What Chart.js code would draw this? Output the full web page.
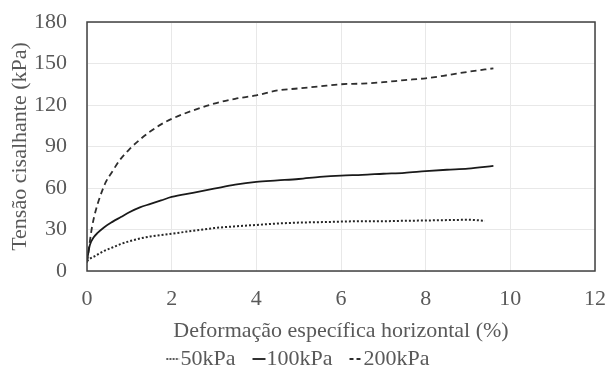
<!DOCTYPE html>
<html>
<head>
<meta charset="utf-8">
<script src="https://cdn.jsdelivr.net/npm/chart.js@4/dist/chart.umd.min.js"></script>
<style>
html,body{margin:0;padding:0;background:#fff;}
#wrap{width:608px;height:369px;position:relative;}
</style>
</head>
<body>
<div id="wrap"><canvas id="c"></canvas></div>
<script>
// ---- data ----
const seriesNames = ['50kPa', '100kPa', '200kPa'];

const strain50 = [0, 0.05, 0.2, 0.4, 0.6, 0.8, 1.0, 1.25, 1.5, 2.0, 2.5, 3.0, 3.5, 4.0, 4.5, 5.0, 5.5, 6.0, 6.5, 7.0, 7.5, 8.0, 8.5, 9.0, 9.4];
const stress50 = [7, 8.5, 11, 14.5, 17, 19.5, 21.5, 23.5, 25, 27, 29, 31, 32.3, 33.3, 34.3, 35, 35.3, 35.7, 36, 36, 36.3, 36.5, 36.8, 37, 36.3];

const strain100 = [0, 0.03, 0.07, 0.15, 0.25, 0.4, 0.6, 0.8, 1.0, 1.25, 1.5, 1.75, 2.0, 2.5, 3.0, 3.5, 4.0, 4.5, 5.0, 5.5, 6.0, 6.5, 7.0, 7.5, 8.0, 8.5, 9.0, 9.6];
const stress100 = [7, 13, 19, 24, 27.5, 31.5, 35.5, 39, 42.5, 46, 48.5, 51, 53.5, 56.5, 59.5, 62.5, 64.5, 65.5, 66.5, 68, 69, 69.5, 70.3, 71, 72.2, 73.2, 74, 76];

const strain200 = [0, 0.03, 0.07, 0.12, 0.2, 0.3, 0.44, 0.6, 0.77, 1.0, 1.25, 1.5, 1.75, 2.0, 2.5, 3.0, 3.5, 4.0, 4.5, 5.0, 5.5, 6.0, 6.5, 7.0, 7.5, 8.0, 8.5, 9.0, 9.6];
const stress200 = [6, 13, 22, 32, 43, 53, 64, 72, 80, 88, 95, 101, 106, 110, 116, 121, 124.5, 127, 130.5, 132, 133.5, 135, 135.5, 136.5, 138, 139.3, 141.5, 144, 146.5];

const xTicks = [0, 2, 4, 6, 8, 10, 12];
const yTicks = [0, 30, 60, 90, 120, 150, 180];
const xTitle = 'Deformação específica horizontal (%)';
const yTitle = 'Tensão cisalhante (kPa)';

function pts(xs, ys) { return xs.map((x, i) => ({x: x, y: ys[i]})); }

const FONT = "'Liberation Serif', 'Times New Roman', serif";
const TXT = '#595959';
const FS = 22;

// small legend sample drawn to the right of the item's origin
function sample(dash, width, color) {
  const c = document.createElement('canvas');
  c.width = 30; c.height = 6;
  const g = c.getContext('2d');
  g.strokeStyle = color; g.lineWidth = width; g.setLineDash(dash);
  g.beginPath(); g.moveTo(14, 3); g.lineTo(27, 3); g.stroke();
  return c;
}

const styles = [
  {color: '#262626', width: 2, dash: [2, 2]},
  {color: '#1a1a1a', width: 1.8, dash: []},
  {color: '#2e2e2e', width: 1.8, dash: [6, 4]}
];
const legendDash = [[1.5, 1.7], [], [4, 3]];

const frame = {
  id: 'frame',
  afterDatasetsDraw(chart) {
    const a = chart.chartArea, ctx = chart.ctx;
    ctx.save();
    ctx.strokeStyle = '#404040';
    ctx.lineWidth = 1.5;
    ctx.strokeRect(a.left, a.top, a.right - a.left, a.bottom - a.top);
    ctx.restore();
  }
};

const xs = [strain50, strain100, strain200];
const ys = [stress50, stress100, stress200];

new Chart(document.getElementById('c'), {
  type: 'line',
  data: {
    datasets: seriesNames.map((n, i) => ({
      label: n,
      data: pts(xs[i], ys[i]),
      borderColor: styles[i].color,
      borderWidth: styles[i].width,
      borderDash: styles[i].dash,
      pointStyle: sample(legendDash[i], styles[i].width, styles[i].color)
    }))
  },
  options: {
    responsive: true,
    maintainAspectRatio: false,
    animation: false,
    cubicInterpolationMode: 'monotone',
    elements: {point: {radius: 0, hoverRadius: 0}, line: {fill: false}},
    layout: {padding: {left: 0, right: 13, top: 22, bottom: 0}},
    plugins: {
      tooltip: {enabled: false},
      legend: {
        position: 'bottom',
        maxHeight: 37,
        labels: {
          usePointStyle: true,
          pointStyleWidth: 4,
          boxHeight: 6,
          padding: 16,
          color: TXT,
          font: {family: FONT, size: FS}
        }
      }
    },
    scales: {
      x: {
        type: 'linear', min: 0, max: 12,
        afterBuildTicks: s => { s.ticks = xTicks.map(v => ({value: v})); },
        afterFit: s => { s.height = 61; s.paddingLeft = 0; s.paddingRight = 0; },
        grid: {color: '#e8e8e8', lineWidth: 1, drawTicks: false},
        border: {display: false},
        ticks: {padding: 15, color: TXT, font: {family: FONT, size: FS}},
        title: {display: true, text: xTitle, color: TXT, font: {family: FONT, size: FS}, padding: {top: 0, bottom: -12}}
      },
      y: {
        type: 'linear', min: 0, max: 180,
        afterBuildTicks: s => { s.ticks = yTicks.map(v => ({value: v})); },
        afterFit: s => { s.width = 87; s.paddingTop = 0; s.paddingBottom = 0; },
        grid: {color: '#e8e8e8', lineWidth: 1, drawTicks: false},
        border: {display: false},
        ticks: {padding: 20, color: TXT, font: {family: FONT, size: FS}},
        title: {display: true, text: yTitle, color: TXT, font: {family: FONT, size: FS}, padding: {top: 7, bottom: 0}}
      }
    }
  },
  plugins: [frame]
});
</script>
</body>
</html>
